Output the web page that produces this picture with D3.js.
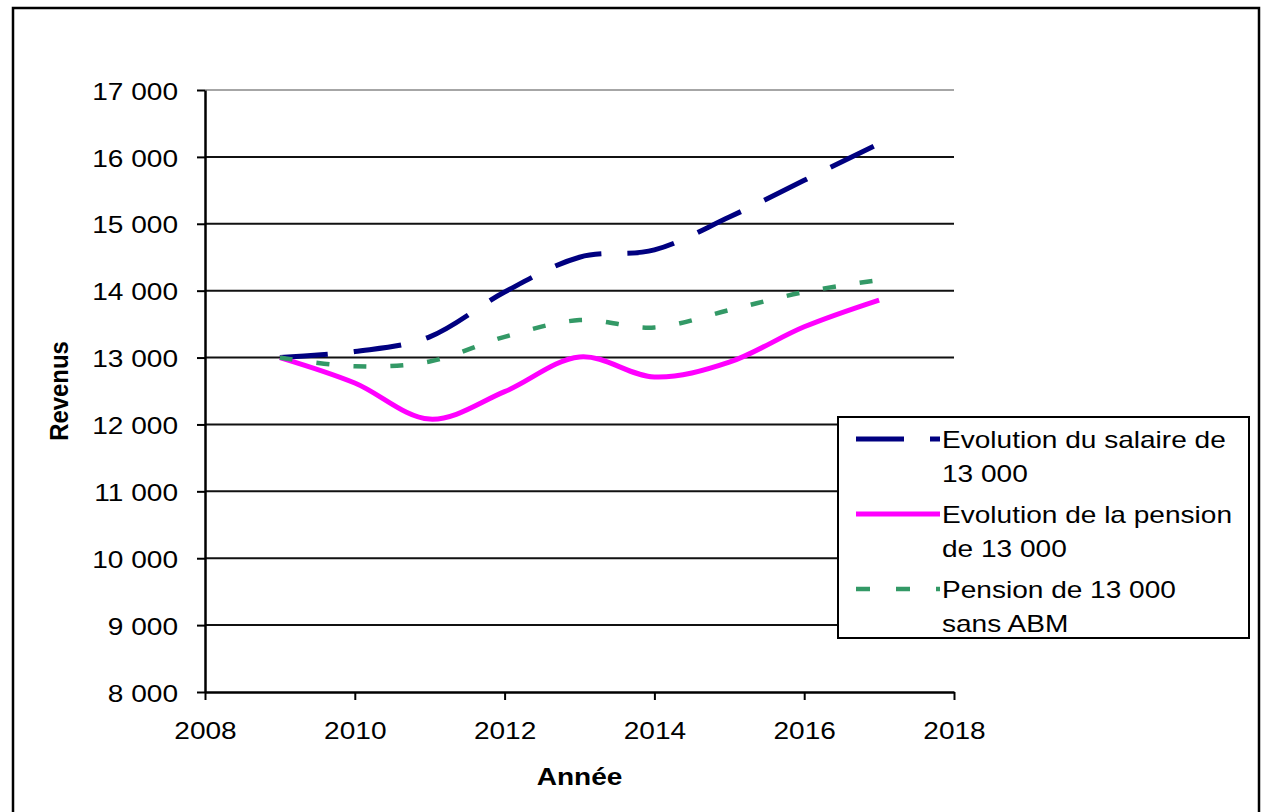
<!DOCTYPE html>
<html lang="fr">
<head>
    <meta charset="UTF-8">
    <title>Evolution des revenus</title>
    <script src="https://d3js.org/d3.v7.min.js"></script>
    <style>
        body { margin: 0; background: #fff; }
        text { font-family: "Liberation Sans", Arial, sans-serif; fill: #000; }
    </style>
</head>
<body>
    <div id="chart"></div>

    <script>
        // Data
        const years = [2009, 2010, 2011, 2012, 2013, 2014, 2015, 2016, 2017];
        const salaire = [13000, 13090, 13310, 13980, 14500, 14610, 15100, 15650, 16200];
        const pension = [13000, 12620, 12080, 12490, 13010, 12710, 12930, 13460, 13860];
        const pensionSansAbm = [13000, 12870, 12940, 13310, 13560, 13450, 13710, 13980, 14160];

        const xTicks = [2008, 2010, 2012, 2014, 2016, 2018];
        const yTicks = [8000, 9000, 10000, 11000, 12000, 13000, 14000, 15000, 16000, 17000];

        const seriesNames = [
            ["Evolution du salaire de", "13 000"],
            ["Evolution de la pension", "de 13 000"],
            ["Pension de 13 000", "sans ABM"]
        ];

        // text in the original is stretched horizontally
        const stretch = 1.22;
        const fontSize = 23;

        const fr = d3.formatLocale({decimal: ",", thousands: " ", grouping: [3], currency: ["", " €"]});

        const svg = d3.select("#chart")
            .append("svg")
            .attr("width", 1264)
            .attr("height", 812);

        // Outer frame
        svg.append("rect")
            .attr("x", 13)
            .attr("y", 8)
            .attr("width", 1246)
            .attr("height", 830)
            .attr("fill", "#fff")
            .attr("stroke", "#000")
            .attr("stroke-width", 2.5);

        // Scales
        const x = d3.scaleLinear().domain([2008, 2018]).range([205, 954]);
        const y = d3.scaleLinear().domain([8000, 17000]).range([692, 90]);

        // Gridlines
        svg.append("g")
            .selectAll("line")
            .data(yTicks.slice(1))
            .enter().append("line")
            .attr("x1", x(2008))
            .attr("x2", x(2018))
            .attr("y1", d => y(d))
            .attr("y2", d => y(d))
            .attr("stroke", d => d === 17000 ? "#888" : "#111")
            .attr("stroke-width", d => d === 17000 ? 1.5 : 2);

        // Y axis
        const yAxis = svg.append("g")
            .attr("transform", `translate(${x(2008)},0)`)
            .call(d3.axisLeft(y).tickValues(yTicks).tickSize(8).tickSizeOuter(0).tickFormat(fr.format(",")));
        yAxis.select(".domain").attr("stroke-width", 2.5);
        yAxis.selectAll(".tick line").attr("stroke-width", 2);
        yAxis.selectAll("text")
            .attr("font-size", fontSize)
            .attr("x", -27 / stretch)
            .attr("dy", "0.40em")
            .attr("transform", `scale(${stretch},1)`);

        // X axis
        const xAxis = svg.append("g")
            .attr("transform", `translate(0,${y(8000)})`)
            .call(d3.axisBottom(x).tickValues(xTicks).tickSize(8).tickSizeOuter(0).tickFormat(d3.format("d")));
        xAxis.select(".domain").attr("stroke-width", 2.5);
        xAxis.selectAll(".tick line").attr("stroke-width", 2);
        xAxis.selectAll("text")
            .attr("font-size", fontSize)
            .attr("y", 47)
            .attr("dy", 0)
            .attr("transform", `scale(${stretch},1)`);

        // Axis titles
        svg.append("text")
            .attr("transform", `translate(${(x(2008) + x(2018)) / 2},785) scale(${stretch},1)`)
            .attr("text-anchor", "middle")
            .attr("font-size", fontSize)
            .attr("font-weight", "bold")
            .text("Année");

        svg.append("text")
            .attr("transform", `translate(68,${(y(8000) + y(17000)) / 2}) rotate(-90) scale(1.04,1.12)`)
            .attr("text-anchor", "middle")
            .attr("font-size", fontSize)
            .attr("font-weight", "bold")
            .text("Revenus");

        // Lines
        const series = [
            {values: salaire, color: "#000080", width: 5, dash: "48,26"},
            {values: pension, color: "#ff00ff", width: 5, dash: null},
            {values: pensionSansAbm, color: "#339966", width: 4.5, dash: "13,24"}
        ];

        const line = d3.line()
            .x((d, i) => x(years[i]))
            .y(d => y(d))
            .curve(d3.curveCardinal.tension(0));

        svg.append("g")
            .selectAll("path")
            .data(series)
            .enter().append("path")
            .attr("d", d => line(d.values))
            .attr("fill", "none")
            .attr("stroke", d => d.color)
            .attr("stroke-width", d => d.width)
            .attr("stroke-dasharray", d => d.dash);

        // Legend
        const legend = svg.append("g");
        legend.append("rect")
            .attr("x", 838)
            .attr("y", 417)
            .attr("width", 411)
            .attr("height", 221)
            .attr("fill", "#fff")
            .attr("stroke", "#000")
            .attr("stroke-width", 2);

        const baselines = [448, 523, 598];
        const legendDash = ["48,26", null, "14,26"];

        series.forEach((s, i) => {
            legend.append("line")
                .attr("x1", 856)
                .attr("x2", 940)
                .attr("y1", baselines[i] - 9)
                .attr("y2", baselines[i] - 9)
                .attr("stroke", s.color)
                .attr("stroke-width", s.width)
                .attr("stroke-dasharray", legendDash[i]);

            seriesNames[i].forEach((t, j) => {
                legend.append("text")
                    .attr("transform", `translate(942,${baselines[i] + j * 34}) scale(${stretch},1)`)
                    .attr("font-size", fontSize)
                    .text(t);
            });
        });
    </script>
</body>
</html>
